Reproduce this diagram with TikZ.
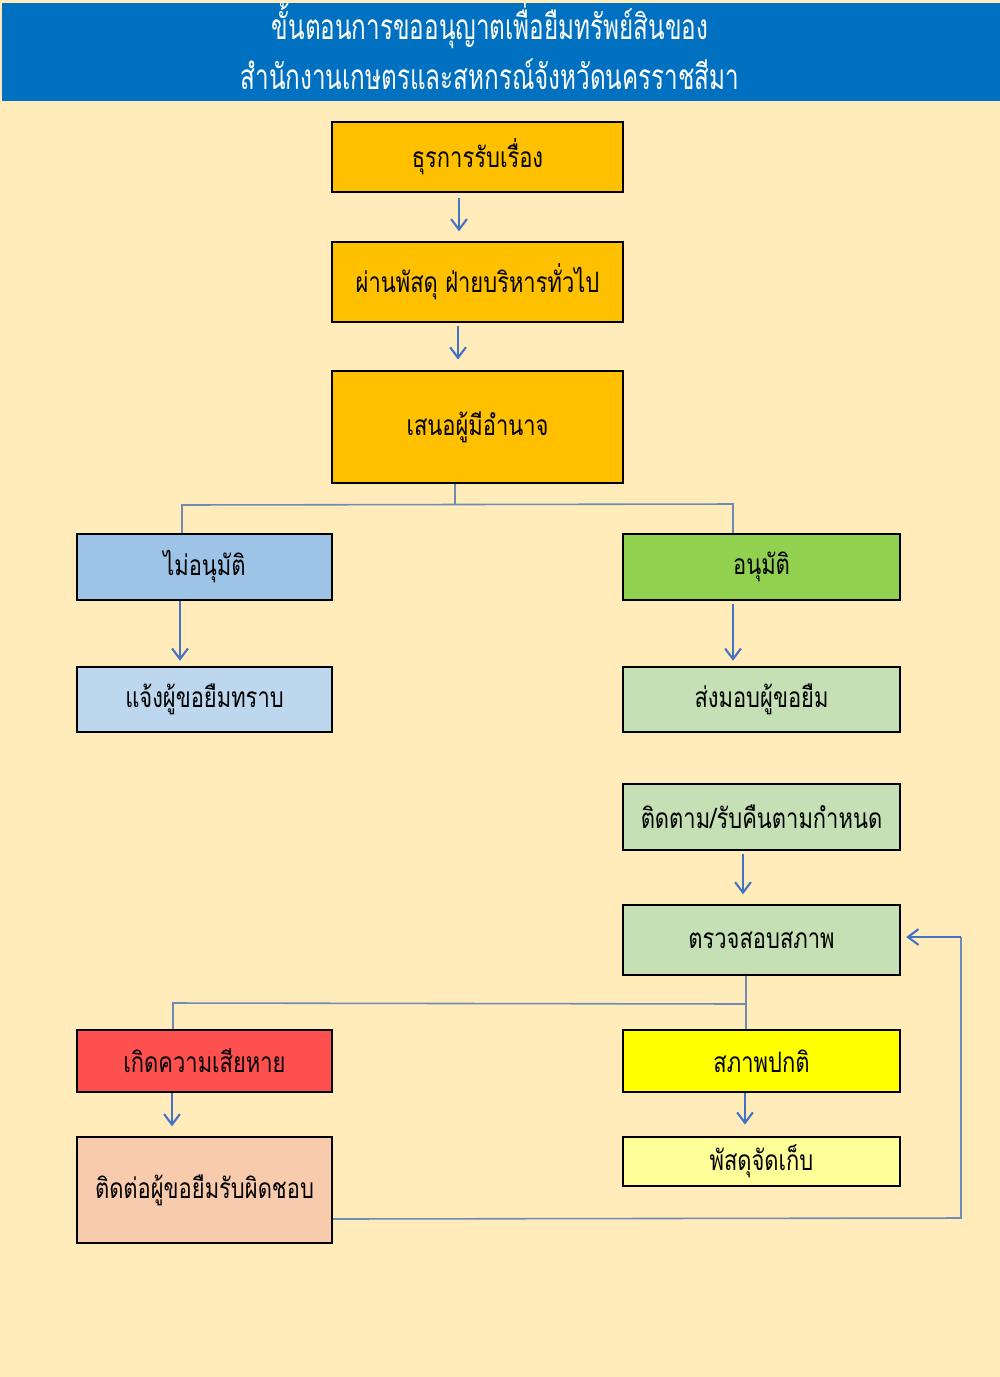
\documentclass[tikz,border=0pt]{standalone}
\usepackage{fontspec}
\newfontfamily\thaifont[Script=Thai, FakeStretch=0.78]{Loma}
\newfontfamily\thaititle[Script=Thai, FakeStretch=0.69]{Loma}
\usetikzlibrary{arrows.meta, positioning}
\definecolor{titleblue}{HTML}{0070C0}
\definecolor{cream}{HTML}{FFECBA}
\definecolor{amber}{HTML}{FFC000}
\definecolor{skyblue}{HTML}{9DC3E6}
\definecolor{paleblue}{HTML}{BDD7EE}
\definecolor{leafgreen}{HTML}{92D050}
\definecolor{sagegreen}{HTML}{C5E0B4}
\definecolor{alarmred}{HTML}{FF5050}
\definecolor{peach}{HTML}{F8CBAD}
\definecolor{lemon}{HTML}{FFFF00}
\definecolor{palelemon}{HTML}{FFFF99}
\definecolor{arrowblue}{HTML}{4472C4}
\definecolor{busgrey}{HTML}{6F8BB5}

\begin{document}
\begin{tikzpicture}[x=0.02cm, y=-0.02cm,
    box/.style={draw=black, line width=1.1pt, inner sep=0pt, font=\thaifont\fontsize{16}{19}\selectfont},
    wide/.style={minimum width=5.54cm},
    narrow/.style={minimum width=5.1cm},
    arr/.style={arrowblue, line width=1.2pt, -{Straight Barb[length=6pt, width=9pt]}},
    bus/.style={busgrey, line width=0.9pt}]
    \useasboundingbox (0,0) rectangle (1000,1377);
    \fill[cream] (0,0) rectangle (1000,1377);

    % Title bar
    \fill[titleblue] (2,3) rectangle (1000,101);
    \node[white, anchor=base, font=\thaititle\fontsize{20}{24}\selectfont] (title1) at (490,39) {ขั้นตอนการขออนุญาตเพื่อยืมทรัพย์สินของ};
    \node[white, anchor=base, font=\thaititle\fontsize{20}{24}\selectfont] (title2) at (490,89) {สำนักงานเกษตรและสหกรณ์จังหวัดนครราชสีมา};

    % Request steps
    \node[box, fill=amber, minimum width=5.82cm, minimum height=1.4cm] (intake) at (477.5,157) {ธุรการรับเรื่อง};
    \node[box, fill=amber, minimum width=5.82cm, minimum height=1.6cm] (supply) at (477.5,282) {ผ่านพัสดุ ฝ่ายบริหารทั่วไป};
    \node[box, fill=amber, minimum width=5.82cm, minimum height=2.24cm] (propose) at (477.5,427) {เสนอผู้มีอำนาจ};

    % Decision
    \node[box, narrow, fill=skyblue, minimum height=1.32cm] (reject) at (204.5,567) {ไม่อนุมัติ};
    \node[box, narrow, fill=paleblue, minimum height=1.3cm] (notify) at (204.5,699.5) {แจ้งผู้ขอยืมทราบ};
    \node[box, wide, fill=leafgreen, minimum height=1.32cm] (approve) at (761.5,567) {อนุมัติ};
    \node[box, wide, fill=sagegreen, minimum height=1.3cm] (handover) at (761.5,699.5) {ส่งมอบผู้ขอยืม};

    % Return and check
    \node[box, wide, fill=sagegreen, minimum height=1.32cm] (follow) at (761.5,817) {ติดตาม/รับคืนตามกำหนด};
    \node[box, wide, fill=sagegreen, minimum height=1.4cm] (inspect) at (761.5,940) {ตรวจสอบสภาพ};

    % Outcomes
    \node[box, narrow, fill=alarmred, minimum height=1.24cm] (damage) at (204.5,1061) {เกิดความเสียหาย};
    \node[box, narrow, fill=peach, minimum height=2.12cm] (liable) at (204.5,1190) {ติดต่อผู้ขอยืมรับผิดชอบ};
    \node[box, wide, fill=lemon, minimum height=1.24cm] (normal) at (761.5,1061) {สภาพปกติ};
    \node[box, wide, fill=palelemon, minimum height=0.98cm] (store) at (761.5,1161.5) {พัสดุจัดเก็บ};

    % Straight arrows
    \draw[arr, shorten <=3pt, shorten >=5.5pt] ([xshift=-0.37cm]intake.south) -- ([xshift=-0.37cm]supply.north);
    \draw[arr, shorten <=2pt, shorten >=6pt] ([xshift=-0.39cm]supply.south) -- ([xshift=-0.39cm]propose.north);
    \draw[arr, shorten >=3pt] ([xshift=-0.49cm]reject.south) -- ([xshift=-0.49cm]notify.north);
    \draw[arr, shorten <=2pt, shorten >=3pt] ([xshift=-0.57cm]approve.south) -- ([xshift=-0.57cm]handover.north);
    \draw[arr, shorten <=2pt, shorten >=5.5pt] ([xshift=-0.37cm]follow.south) -- ([xshift=-0.37cm]inspect.north);
    \draw[arr, shorten >=5.5pt] ([xshift=-0.65cm]damage.south) -- ([xshift=-0.65cm]liable.north);
    \draw[arr, shorten >=6.5pt] ([xshift=-0.33cm]normal.south) -- ([xshift=-0.33cm]store.north);

    % Approval split
    \coordinate (splitL) at (182,505);
    \coordinate (splitR) at (733,504);
    \draw[bus] ([xshift=-0.45cm]propose.south) -- ([xshift=-0.45cm]propose.south |- splitL);
    \draw[bus] (reject.north -| splitL) -- (splitL) -- (splitR) -- (approve.north -| splitR);

    % Condition split
    \coordinate (checkL) at (173,1003);
    \coordinate (checkR) at (746,1004);
    \draw[bus] (inspect.south -| checkR) -- (checkR) -- (checkL) -- (damage.north -| checkL);
    \draw[bus] (checkR) -- (normal.north -| checkR);

    % Back to inspection
    \coordinate (loopB) at (961,1218);
    \coordinate (loopT) at (961,937);
    \draw[bus] (liable.east |- 0,1219) -- (loopB) -- (loopT);
    \draw[arr, shorten >=3pt] (loopT) -- (inspect.east |- loopT);
\end{tikzpicture}
\end{document}
